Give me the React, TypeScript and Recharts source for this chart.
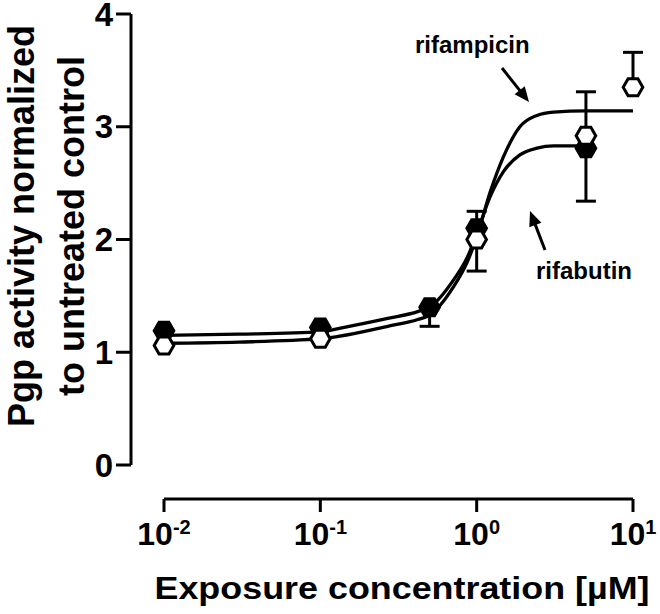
import React from "react";
import { ComposedChart, Line, Scatter, XAxis, YAxis, ErrorBar } from "recharts";

// fitted curves at these concentrations (µM)
const fitConc = [0.01, 0.03, 0.1, 0.13, 0.27, 0.42, 0.5, 0.71, 0.87, 1, 1.22, 1.48, 1.89, 2.43, 3.1, 5, 10];
const rifabutinFit = [1.15, 1.16, 1.18, 1.21, 1.3, 1.36, 1.4, 1.64, 1.84, 2.05, 2.38, 2.6, 2.75, 2.81, 2.83, 2.83, null];
const rifampicinFit = [1.08, 1.09, 1.12, 1.14, 1.23, 1.29, 1.33, 1.58, 1.8, 2.02, 2.42, 2.73, 3.0, 3.1, 3.13, 3.14, 3.14];

// measured points (filled = rifabutin, open = rifampicin)
const rifabutinConc = [0.01, 0.1, 0.5, 1, 5];
const rifabutinMean = [1.19, 1.22, 1.4, 2.1, 2.81];
const rifabutinErrDown = [0, 0, 0.17, 0.38, 0.47];

const rifampicinConc = [0.01, 0.1, 1, 5, 10];
const rifampicinMean = [1.06, 1.12, 2.0, 2.92, 3.35];
const rifampicinErrUp = [0, 0, 0.25, 0.39, 0.31];

const xTicks = [0.01, 0.1, 1, 10];
const xTickExp = ["-2", "-1", "0", "1"];
const yTicks = [0, 1, 2, 3, 4];

const FONT = '"Liberation Sans", Arial, Helvetica, sans-serif';

const rifabutinLine = fitConc
  .map((x, i) => ({ x, y: rifabutinFit[i] }))
  .filter((d) => d.y != null);
const rifampicinLine = fitConc.map((x, i) => ({ x, y: rifampicinFit[i] }));

const rifabutinPts = rifabutinConc.map((x, i) => ({
  x,
  y: rifabutinMean[i],
  err: [rifabutinErrDown[i], 0],
}));
const rifampicinPts = rifampicinConc.map((x, i) => ({
  x,
  y: rifampicinMean[i],
  err: [0, rifampicinErrUp[i]],
}));

function Hex({ cx, cy, filled }: { cx: number; cy: number; filled: boolean }) {
  const r = 9.8;
  const pts = [0, 60, 120, 180, 240, 300]
    .map((a) => {
      const t = (a * Math.PI) / 180;
      return `${cx + r * Math.cos(t)},${cy + r * Math.sin(t)}`;
    })
    .join(" ");
  return <polygon points={pts} fill={filled ? "#000" : "#fff"} stroke="#000" strokeWidth={3} />;
}

const YTick = (props: any) => {
  const { x, y, payload } = props;
  return (
    <text x={x - 1} y={y} dy={11.5} textAnchor="end" fontSize={33} fontWeight="bold" fontFamily={FONT} fill="#000">
      {payload.value}
    </text>
  );
};

const XTick = (props: any) => {
  const { x, y, payload } = props;
  const i = xTicks.indexOf(payload.value);
  return (
    <text x={x} y={y} dy={31} textAnchor="middle" fontSize={32} fontWeight="bold" fontFamily={FONT} fill="#000">
      <tspan>10</tspan>
      <tspan dy={-11} fontSize={20}>
        {xTickExp[i]}
      </tspan>
    </text>
  );
};

function Arrow({ x1, y1, x2, y2 }: { x1: number; y1: number; x2: number; y2: number }) {
  const L = Math.hypot(x2 - x1, y2 - y1);
  const ux = (x2 - x1) / L;
  const uy = (y2 - y1) / L;
  const hl = 15;
  const hw = 6.5;
  const bx = x2 - ux * hl;
  const by = y2 - uy * hl;
  return (
    <g>
      <line x1={x1} y1={y1} x2={bx + ux * 2} y2={by + uy * 2} stroke="#000" strokeWidth={3} />
      <polygon points={`${x2},${y2} ${bx - uy * hw},${by + ux * hw} ${bx + uy * hw},${by - ux * hw}`} fill="#000" />
    </g>
  );
}

export default function App() {
  return (
    <div style={{ position: "absolute", left: 0, top: 0, width: 660, height: 614, background: "#fff" }}>
      <ComposedChart width={660} height={614} margin={{ top: 14, right: 27, left: 0, bottom: 0 }}>
        {/* inner axes carry the data; the outer ones are drawn, offset from the plot */}
        <XAxis
          xAxisId="data"
          dataKey="x"
          type="number"
          scale="log"
          domain={[0.01, 10]}
          height={34}
          tick={false}
          tickLine={false}
          axisLine={false}
        />
        <YAxis yAxisId="data" type="number" domain={[0, 4]} width={33} tick={false} tickLine={false} axisLine={false} />
        <XAxis
          xAxisId="vis"
          dataKey="x"
          type="number"
          scale="log"
          domain={[0.01, 10]}
          allowDataOverflow
          ticks={xTicks}
          height={115}
          tickSize={13}
          tick={<XTick />}
          axisLine={{ stroke: "#000", strokeWidth: 3 }}
          tickLine={{ stroke: "#000", strokeWidth: 3 }}
        />
        <YAxis
          yAxisId="vis"
          type="number"
          domain={[0, 4]}
          allowDataOverflow
          ticks={yTicks}
          width={131}
          tickSize={15}
          tick={<YTick />}
          axisLine={{ stroke: "#000", strokeWidth: 3 }}
          tickLine={{ stroke: "#000", strokeWidth: 3 }}
        />
        <Line
          xAxisId="data"
          yAxisId="data"
          data={rifampicinLine}
          dataKey="y"
          type="monotone"
          stroke="#000"
          strokeWidth={3.3}
          dot={false}
          activeDot={false}
          isAnimationActive={false}
        />
        <Line
          xAxisId="data"
          yAxisId="data"
          data={rifabutinLine}
          dataKey="y"
          type="monotone"
          stroke="#000"
          strokeWidth={3.3}
          dot={false}
          activeDot={false}
          isAnimationActive={false}
        />
        <Scatter
          xAxisId="data"
          yAxisId="data"
          data={rifabutinPts}
          dataKey="y"
          isAnimationActive={false}
          shape={(p: any) => <Hex cx={p.cx} cy={p.cy} filled />}
        >
          <ErrorBar dataKey="err" direction="y" width={10} stroke="#000" strokeWidth={3} isAnimationActive={false} />
        </Scatter>
        <Scatter
          xAxisId="data"
          yAxisId="data"
          data={rifampicinPts}
          dataKey="y"
          isAnimationActive={false}
          shape={(p: any) => <Hex cx={p.cx} cy={p.cy} filled={false} />}
        >
          <ErrorBar dataKey="err" direction="y" width={10} stroke="#000" strokeWidth={3} isAnimationActive={false} />
        </Scatter>
      </ComposedChart>
      <svg width={660} height={614} style={{ position: "absolute", left: 0, top: 0, pointerEvents: "none" }}>
        <g fontFamily={FONT} fontWeight="bold" fill="#000">
          <text transform="translate(34,226) rotate(-90)" textAnchor="middle" fontSize={36}>
            Pgp activity normalized
          </text>
          <text transform="translate(84,226) rotate(-90)" textAnchor="middle" fontSize={36}>
            to untreated control
          </text>
          <text x={402} y={599} textAnchor="middle" fontSize={32} textLength={495} lengthAdjust="spacingAndGlyphs">
            Exposure concentration [µM]
          </text>
          <text x={415} y={53} fontSize={24}>
            rifampicin
          </text>
          <text x={536} y={279} fontSize={24}>
            rifabutin
          </text>
        </g>
        <Arrow x1={502} y1={68} x2={529} y2={102} />
        <Arrow x1={545} y1={250} x2={530} y2={211} />
      </svg>
    </div>
  );
}
